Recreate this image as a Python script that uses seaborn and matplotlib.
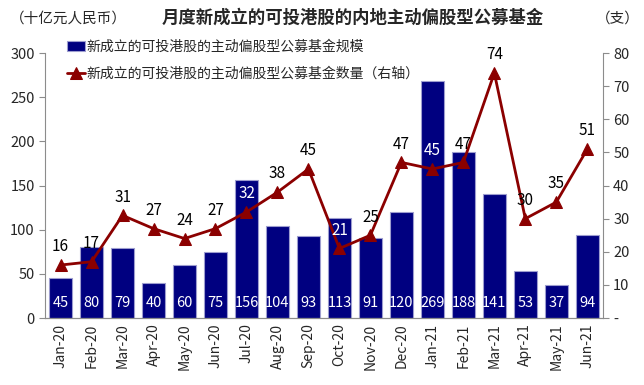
import numpy as np
import pandas as pd
import seaborn as sns
from matplotlib import pyplot as plt
from matplotlib.ticker import FuncFormatter, MultipleLocator

months = ["Jan-20", "Feb-20", "Mar-20", "Apr-20", "May-20", "Jun-20", "Jul-20", "Aug-20", "Sep-20",
          "Oct-20", "Nov-20", "Dec-20", "Jan-21", "Feb-21", "Mar-21", "Apr-21", "May-21", "Jun-21"]
size_bn = [45, 80, 79, 40, 60, 75, 156, 104, 93, 113, 91, 120, 269, 188, 141, 53, 37, 94]
fund_count = [16, 17, 31, 27, 24, 27, 32, 38, 45, 21, 25, 47, 45, 47, 74, 30, 35, 51]

bar_label = "新成立的可投港股的主动偏股型公募基金规模"
line_label = "新成立的可投港股的主动偏股型公募基金数量（右轴）"

sns.set_style("white")
plt.rcParams['font.family'] = ['Noto Sans CJK SC', 'DejaVu Sans']

df = pd.DataFrame({"month": months, "size": size_bn, "count": fund_count})
df["pos"] = np.arange(len(df))

fig = plt.figure(figsize=(6.44, 3.85), dpi=100)
ax = fig.add_axes([0.07, 0.174, 0.866, 0.688])
ax2 = ax.twinx()

navy = "#000080"
red = "#8B0000"
grey = "#8c8c8c"

sns.barplot(data=df, x="month", y="size", color=navy, width=0.75, saturation=1,
            edgecolor="#9d9dcf", linewidth=0.8, ax=ax, label=bar_label)
sns.lineplot(data=df, x="pos", y="count", color=red, marker="^", markersize=8,
             markeredgecolor=red, linewidth=2, ax=ax2, label=line_label, legend=False)

ax.set_ylim(0, 300)
ax2.set_ylim(0, 80)
ax.set_xlim(-0.5, len(df) - 0.5)
ax.yaxis.set_major_locator(MultipleLocator(50))
ax2.yaxis.set_major_locator(MultipleLocator(10))
ax2.yaxis.set_major_formatter(FuncFormatter(lambda v, p: "-" if v == 0 else f"{v:.0f}"))

# value labels
for i, v in enumerate(size_bn):
    ax.text(i, 17, str(v), color="white", ha="center", va="center", fontsize=10.5)
for i, v in enumerate(fund_count):
    inside = v * 300 / 80 + 20 < size_bn[i]
    ax2.annotate(str(v), (i, v), xytext=(0, 7), textcoords="offset points",
                 ha="center", va="bottom", fontsize=11, color="white" if inside else "black")

ax.set_xlabel("")
ax.set_ylabel("")
ax2.set_xlabel("")
ax2.set_ylabel("")
ax.set_xticks(df["pos"])
ax.set_xticklabels(months, rotation=90, fontsize=10)
ax.tick_params(axis="x", length=0, pad=4)
ax.set_xticks(np.arange(-0.5, len(df), 1), minor=True)
ax.tick_params(axis="x", which="minor", length=5, color=grey, direction="out")
ax.tick_params(axis="y", length=4, color=grey, labelsize=10.5, left=True, direction="out")
ax2.tick_params(axis="y", length=4, color=grey, labelsize=10.5, right=True, direction="out")

for a in (ax, ax2):
    a.spines["top"].set_visible(False)
    for s in ("left", "right", "bottom"):
        a.spines[s].set_color(grey)
ax2.spines["left"].set_visible(False)
ax.spines["right"].set_visible(False)

h1, l1 = ax.get_legend_handles_labels()
h2, l2 = ax2.get_legend_handles_labels()
if ax.get_legend():
    ax.get_legend().remove()
ax.legend(h1 + h2, l1 + l2, loc="upper left", bbox_to_anchor=(0.03, 1.07), frameon=False,
          fontsize=10, handlelength=1.3, handletextpad=0.1, labelspacing=0.9, borderaxespad=0)

fig.text(0.547, 0.953, "月度新成立的可投港股的内地主动偏股型公募基金", ha="center", va="center",
         fontsize=12.5, fontweight="bold")
fig.text(0.015, 0.953, "（十亿元人民币）", ha="left", va="center", fontsize=10.5)
fig.text(0.925, 0.953, "（支）", ha="left", va="center", fontsize=10.5)

fig.savefig("out.png", dpi=100)
